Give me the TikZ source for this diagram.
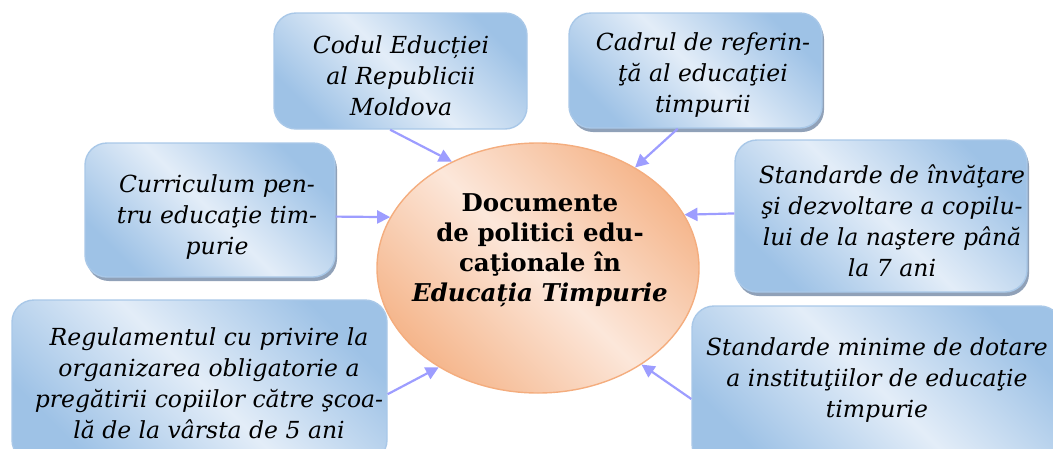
\documentclass[tikz,border=0pt]{standalone}
\usepackage{fontspec}
\setmainfont{DejaVu Serif}
\usetikzlibrary{shadows,arrows.meta,shapes.geometric}
\definecolor{bdark}{HTML}{9EC2E6}
\definecolor{blight}{HTML}{E3EDF8}
\definecolor{bborder}{HTML}{A9C8E8}
\definecolor{pdark}{HTML}{F5B68C}
\definecolor{plight}{HTML}{FCE7DA}
\definecolor{pborder}{HTML}{F4AD7E}
\definecolor{arr}{HTML}{9D9DFF}
\definecolor{shad}{HTML}{8497B0}
\begin{document}
\begin{tikzpicture}[x=1pt,y=-1pt,
  doc/.style={rounded corners=22pt, draw=bborder, line width=1.4pt,
    top color=bdark, bottom color=bdark, middle color=blight, shading angle=-45,
    inner sep=0pt},
  docsh/.style={doc, drop shadow={shadow xshift=2pt, shadow yshift=-4pt, fill=shad, opacity=0.9}},
  doctext/.style={align=center, inner sep=0pt, font=\fontsize{23.5}{31}\selectfont\itshape},
  ell/.style={ellipse, draw=pborder, line width=1.4pt,
    top color=pdark, bottom color=pdark, middle color=plight, shading angle=-45, inner sep=0pt},
  elltext/.style={align=center, font=\fontsize{24.5}{30}\selectfont\bfseries},
  arrow/.style={draw=arr, line width=2.2pt, -{Triangle[length=13pt,width=13pt]}}
]
\useasboundingbox (0,0) rectangle (1053,448);
\clip (0,0) rectangle (1053,448);
\node[doc, minimum width=253pt, minimum height=116pt] (codul) at (400.5,71) {};
\node[doctext] (codul-t) at (401,76) {Codul Educției\\al Republicii\\Moldova};
\node[docsh, minimum width=253pt, minimum height=115pt] (cadrul) at (695.5,70.5) {};
\node[doctext] (cadrul-t) at (703,75) {Cadrul de referin-\\ţă al educaţiei\\timpurii};
\node[docsh, minimum width=250pt, minimum height=134pt] (curr) at (210,210) {};
\node[doctext] (curr-t) at (217,217) {Curriculum pen-\\tru educaţie tim-\\purie};
\node[docsh, minimum width=292pt, minimum height=152pt] (stdinv) at (881,216) {};
\node[doctext] (stdinv-t) at (892,221) {Standarde de învăţare\\şi dezvoltare a copilu-\\lui de la naştere până\\la 7 ani};
\node[doc, minimum width=370pt, minimum height=160pt] (stdmin) at (877,386) {};
\node[doctext] (stdmin-t) at (877,380) {Standarde minime de dotare\\a instituţiilor de educaţie\\timpurie};
\node[doc, minimum width=375pt, minimum height=162pt] (regul) at (199.5,381) {};
\node[doctext] (regul-t) at (209,383) {Regulamentul cu privire la\\organizarea obligatorie a\\pregătirii copiilor către şcoa-\\lă de la vârsta de 5 ani};
\node[ell, minimum width=322pt, minimum height=250pt] (ell) at (538,268) {};
\node[elltext] (elltxt) at (540,250)
  {Documente\\de politici edu-\\caţionale în\\\textit{Educația Timpurie}};
\draw[arrow] (codul.-100) -- (ell.129.5);
\draw[arrow] (cadrul.-107) -- (ell.46.5);
\draw[arrow] (curr.-3) -- (ell.161);
\draw[arrow] (stdinv.179) -- (ell.20.5);
\draw[arrow] (regul.-4) -- (ell.225.6);
\draw[arrow] (stdmin.184) -- (ell.-43);
\end{tikzpicture}
\end{document}
